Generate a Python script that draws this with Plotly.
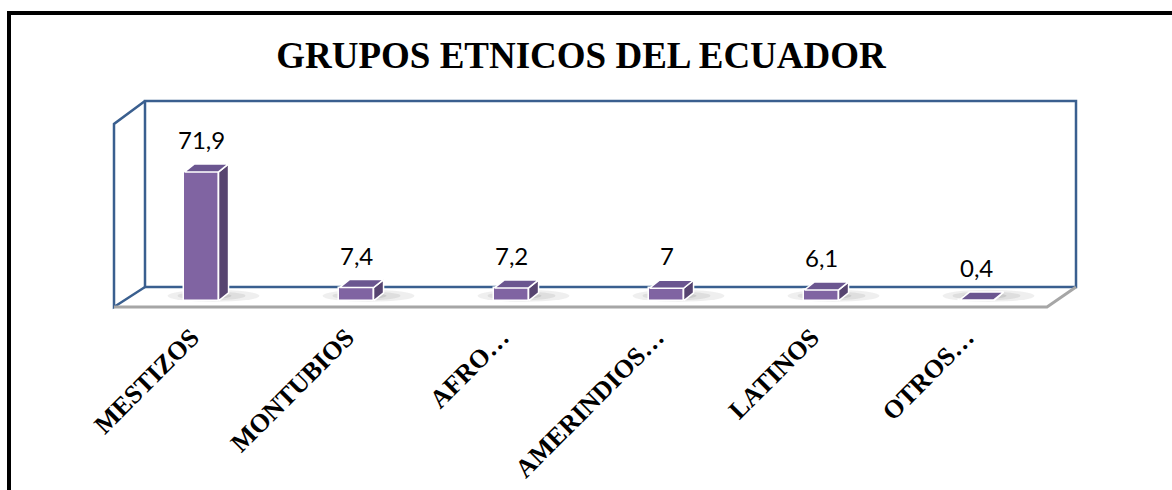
import plotly.graph_objects as go

# ---- data -------------------------------------------------------------
groups = ["MESTIZOS", "MONTUBIOS", "AFRO…", "AMERINDIOS…", "LATINOS", "OTROS…"]
percent = [71.9, 7.4, 7.2, 7.0, 6.1, 0.4]
title_text = "GRUPOS ETNICOS DEL ECUADOR"

# ---- geometry of the figure (pixels) ----------------------------------
W, H = 1172, 490
ML, MR, MT, MB = 124, 118, 100, 182          # plot area 930 x 208 px
PW, PH = W - ML - MR, H - MT - MB
Y_RANGE = [-4, 112]
PX_PER_UNIT = PH / (Y_RANGE[1] - Y_RANGE[0])
CAT_PX = PW / len(groups)

BAR_W = 0.22                                 # in category units
DEPTH_X = 10 / CAT_PX                        # 3-D depth, category units
DEPTH_Y = 8 / PX_PER_UNIT                    # 3-D depth, value units

FRONT = "#8064a2"
SIDE = "#574470"
TOP = "#6b5690"
WALL = "#3a5f8f"
FLOOR_EDGE = "#a6a6a6"


def px(xp):
    """pixel x -> paper x"""
    return (xp - ML) / PW


def py(yp):
    """pixel y -> paper y"""
    return (H - MB - yp) / PH


fig = go.Figure()

# side and top faces of each bar
for i, v in enumerate(percent):
    xl, xr = i - BAR_W / 2, i + BAR_W / 2
    fig.add_trace(go.Scatter(
        x=[xr, xr + DEPTH_X, xr + DEPTH_X, xr, xr],
        y=[0, DEPTH_Y, v + DEPTH_Y, v, 0],
        mode="lines", fill="toself", fillcolor=SIDE,
        line=dict(color="white", width=1.5), hoverinfo="skip", showlegend=False))
    fig.add_trace(go.Scatter(
        x=[xl, xr, xr + DEPTH_X, xl + DEPTH_X, xl],
        y=[v, v, v + DEPTH_Y, v + DEPTH_Y, v],
        mode="lines", fill="toself", fillcolor=TOP,
        line=dict(color="white", width=1.5), hoverinfo="skip", showlegend=False))

# front faces
fig.add_trace(go.Bar(
    x=list(range(len(groups))), y=percent, width=BAR_W,
    marker=dict(color=FRONT, line=dict(color="white", width=1.5)),
    hoverinfo="skip", showlegend=False))

# value labels
for i, v in enumerate(percent):
    fig.add_annotation(
        x=i, y=v + DEPTH_Y, text=f"{v:g}".replace(".", ","), showarrow=False,
        yanchor="bottom", yshift=8,
        font=dict(family="Lato", size=24, color="black"))

shapes = []

# soft floor shadows behind the bars
for i, v in enumerate(percent):
    for hw, hh, op, off in [(46, 6, 0.12, 12), (34, 4.5, 0.15, 10), (22, 3, 0.2, 8)]:
        cx = i + off / CAT_PX
        cy = 5 / PX_PER_UNIT
        shapes.append(dict(
            type="circle", xref="x", yref="y", layer="below",
            x0=cx - hw / CAT_PX, x1=cx + hw / CAT_PX,
            y0=cy - hh / PX_PER_UNIT, y1=cy + hh / PX_PER_UNIT,
            fillcolor="#7f7f7f", opacity=op, line=dict(width=0)))

# back wall
shapes.append(dict(type="rect", xref="paper", yref="paper", layer="below",
                   x0=px(145), x1=px(1076), y0=py(287), y1=py(101),
                   line=dict(color=WALL, width=2.5), fillcolor="rgba(0,0,0,0)"))
# left wall
shapes.append(dict(type="path", xref="paper", yref="paper", layer="below",
                   path=f"M {px(145)},{py(101)} L {px(114)},{py(124)} "
                        f"L {px(114)},{py(307)} L {px(145)},{py(287)}",
                   line=dict(color=WALL, width=2.5)))
# floor edges
shapes.append(dict(type="path", xref="paper", yref="paper", layer="below",
                   path=f"M {px(114)},{py(307)} L {px(1047)},{py(307)} "
                        f"L {px(1076)},{py(287)}",
                   line=dict(color=FLOOR_EDGE, width=3)))
# outer frame (left and top sides show)
shapes.append(dict(type="rect", xref="paper", yref="paper", layer="above",
                   x0=px(9), x1=px(1200), y0=py(520), y1=py(13),
                   line=dict(color="black", width=4), fillcolor="rgba(0,0,0,0)"))

fig.update_layout(
    width=W, height=H,
    margin=dict(l=ML, r=MR, t=MT, b=MB, autoexpand=False),
    paper_bgcolor="white", plot_bgcolor="rgba(0,0,0,0)",
    shapes=shapes,
    bargap=0,
    title=dict(text=title_text, x=581 / W, xanchor="center",
               y=1 - 55 / H, yanchor="middle", xref="container", yref="container",
               font=dict(family="Liberation Serif", size=37, color="black", weight="bold")),
    xaxis=dict(range=[-0.5, len(groups) - 0.5], tickmode="array",
               tickvals=list(range(len(groups))), ticktext=groups,
               tickangle=-45, showgrid=False, zeroline=False, showline=False,
               ticks="", ticklabelstandoff=8, ticklabelshift=-10,
               tickfont=dict(family="Liberation Serif", size=26, color="black", weight="bold")),
    yaxis=dict(range=Y_RANGE, visible=False),
)

fig.write_html("out.html")
